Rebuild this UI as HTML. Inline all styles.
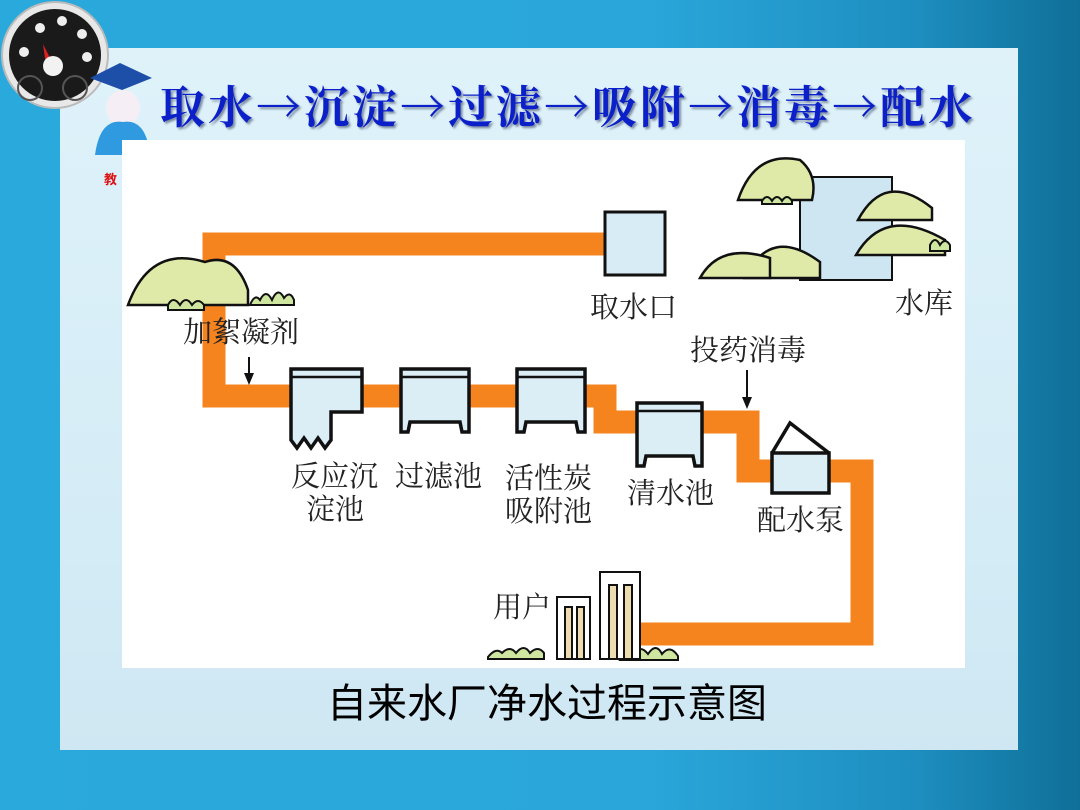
<!DOCTYPE html>
<html><head><meta charset="utf-8"><style>
html,body{margin:0;padding:0}
body{width:1080px;height:810px;overflow:hidden;position:relative;background:linear-gradient(90deg,#2aa9dd 0%,#2aa6da 60%,#1d8ebf 85%,#0f6f98 100%);font-family:"Liberation Sans","Noto Sans CJK SC",sans-serif}
.panel{position:absolute;left:60px;top:48px;width:958px;height:702px;background:linear-gradient(180deg,#dff2fa 0%,#d4ecf6 70%,#cfe7f2 100%)}
.title{position:absolute;left:160px;top:74px;font-size:45px;font-weight:bold;color:#0b20c8;font-family:"Noto Serif CJK SC",serif;text-shadow:2px 2px 2px #7a8aa0;letter-spacing:3px;white-space:nowrap;line-height:60px}
.cap{position:absolute;left:327px;top:676px;font-size:40px;color:#000;font-family:"Liberation Sans","Noto Sans CJK SC",sans-serif;line-height:56px}
</style></head><body>
<div class="panel"></div>
<svg width="1080" height="810" style="position:absolute;left:0;top:0">
<circle cx="55" cy="55" r="53" fill="#e8e8e8" stroke="#bbb" stroke-width="2"/>
<circle cx="55" cy="55" r="46" fill="#1a1a1a"/>
<circle cx="62" cy="21" r="5" fill="#eee"/><circle cx="40" cy="28" r="5" fill="#eee"/><circle cx="82" cy="34" r="5" fill="#eee"/><circle cx="24" cy="52" r="5" fill="#eee"/><circle cx="87" cy="57" r="5" fill="#eee"/>
<polygon points="43,44 52,62 46,65" fill="#e02020"/>
<circle cx="53" cy="66" r="10" fill="#f2f2f2"/>
<circle cx="30" cy="88" r="12" fill="none" stroke="#555" stroke-width="2"/><circle cx="75" cy="88" r="12" fill="none" stroke="#555" stroke-width="2"/>
<polygon points="90,78 120,63 152,78 122,90" fill="#1e4fa8"/>
<ellipse cx="123" cy="108" rx="17" ry="18" fill="#f5eef5"/>
<path d="M95 155 Q100 118 123 122 Q146 118 150 155 Z" fill="#2f9ae0"/>
<text x="104" y="184" font-size="13" font-weight="bold" fill="#d11">教</text>
<rect x="122" y="140" width="843" height="528" fill="#fff"/>
<g fill="none" stroke="#f5841f" stroke-width="23" stroke-linejoin="miter">
<polyline points="605,244 214,244 214,396 594,396 605,396 605,422 748,422 748,471 862,471 862,634 640,634"/>
</g>
<rect x="605" y="212" width="60" height="63" fill="#d8ecf5" stroke="#111" stroke-width="3"/>
<rect x="800" y="177" width="92" height="103" fill="#cde6f1" stroke="#111" stroke-width="2"/>
<g fill="#dfeaa8" stroke="#111" stroke-width="2.5">
<path d="M738 200 Q755 150 800 160 Q818 175 812 200 Z"/>
<path d="M858 220 Q885 170 932 208 L932 220 Z"/>
<path d="M856 255 Q885 205 945 240 L945 255 Z"/>
<path d="M745 278 Q770 225 820 262 L820 278 Z"/>
<path d="M700 278 Q720 242 770 258 L770 278 Z"/>
<path d="M128 305 Q150 245 205 262 Q235 252 248 290 L248 305 Z"/>
</g>
<g fill="#cfe6a0" stroke="#111" stroke-width="2">
<path d="M762 201 q5-8 10 0 q5-8 10 0 q5-8 10 0 l0 3 l-30 0 z"/>
<path d="M930 245 q5-10 10 0 q5-8 10 0 l0 6 l-20 0z"/>
<path d="M168 305 q5-10 12 0 q6-10 12 0 q6-8 12 0 l0 5 l-36 0z"/>
<path d="M250 305 q5-12 10 -5 q6-12 12 0 q6-14 12 -2 q6-8 10 2 l0 5 l-44 0z"/>
<path d="M488 657 q8-10 14 -4 q8-8 14 0 q8-10 14 0 q8-8 14 0 l0 6 l-56 0z"/>
<path d="M620 660 q6-14 14 -6 q6-10 14 0 q8-12 14 0 q8-10 16 2 l0 4 l-58 0z"/>
</g>
<g stroke="#111" stroke-width="2" fill="#fff">
<rect x="557" y="597" width="33" height="62"/>
<rect x="600" y="572" width="40" height="87"/>
</g>
<g stroke="#111" stroke-width="2" fill="#ecdcb0">
<rect x="565" y="607" width="7" height="52"/><rect x="577" y="607" width="7" height="52"/>
<rect x="609" y="585" width="8" height="74"/><rect x="624" y="585" width="8" height="74"/>
</g>
<g fill="#dbeef6" stroke="#111" stroke-width="3.5">
<path d="M291 369 L362 369 L362 412 L331 412 L331 440 L325 448 L318 438 L311 448 L304 438 L297 448 L291 440 Z"/>
<path d="M401 369 L469 369 L469 432 L462 432 L460 422 L410 422 L408 432 L401 432 Z"/>
<path d="M517 369 L585 369 L585 432 L578 432 L576 422 L526 422 L524 432 L517 432 Z"/>
<path d="M637 403 L702 403 L702 466 L695 466 L693 456 L646 456 L644 466 L637 466 Z"/>
<rect x="772" y="453" width="57" height="40"/>
<polyline points="772,453 790,423 829,453" fill="none"/>
</g>
<g stroke="#111" stroke-width="2.5"><line x1="291" y1="377" x2="362" y2="377"/><line x1="401" y1="377" x2="469" y2="377"/><line x1="517" y1="377" x2="585" y2="377"/><line x1="637" y1="411" x2="702" y2="411"/></g>
<g stroke="#111" stroke-width="2"><line x1="249" y1="357" x2="249" y2="381"/><line x1="747" y1="370" x2="747" y2="405"/></g>
<polygon points="244,373 254,373 249,385" fill="#111"/><polygon points="742,397 752,397 747,409" fill="#111"/>
<g font-family="Liberation Serif,Noto Serif CJK SC,serif" font-size="29" fill="#222">
<text x="590" y="317">取水口</text>
<text x="895" y="313">水库</text>
<text x="183" y="342">加絮凝剂</text>
<text x="690" y="360">投药消毒</text>
<text x="291" y="486">反应沉</text><text x="306" y="519">淀池</text>
<text x="395" y="486">过滤池</text>
<text x="505" y="488">活性炭</text><text x="505" y="521">吸附池</text>
<text x="627" y="503">清水池</text>
<text x="757" y="530">配水泵</text>
<text x="493" y="617">用户</text>
</g>
</svg>
<div class="title">取水→沉淀→过滤→吸附→消毒→配水</div>
<div class="cap">自来水厂净水过程示意图</div>
</body></html>
